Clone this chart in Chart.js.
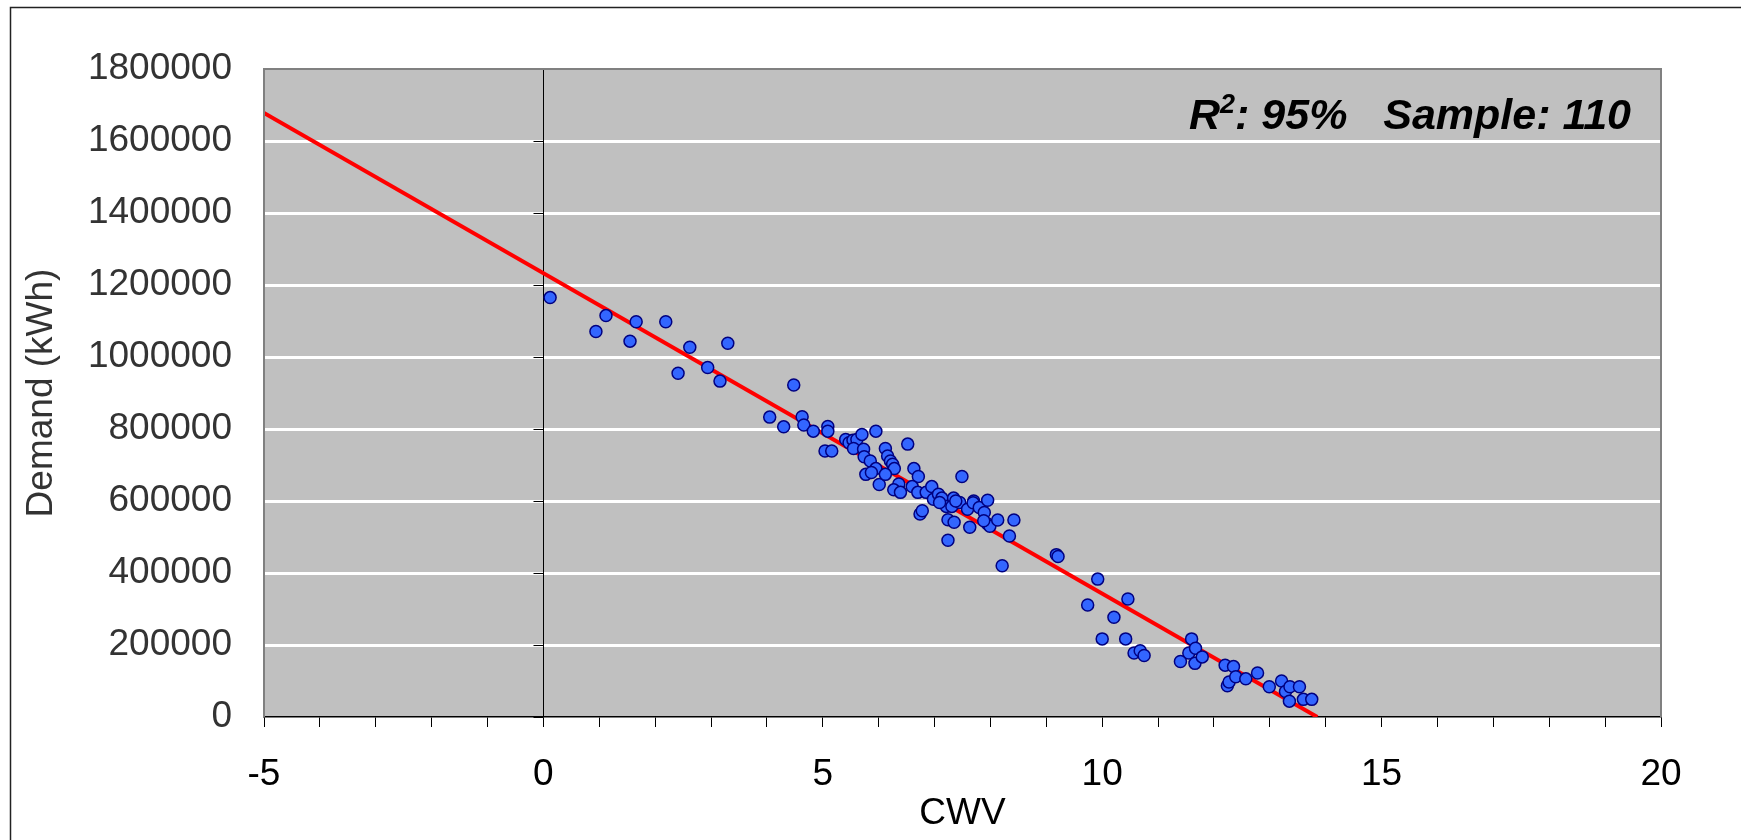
<!DOCTYPE html>
<html>
<head>
<meta charset="utf-8">
<script src="https://cdn.jsdelivr.net/npm/chart.js@4/dist/chart.umd.min.js"></script>
<style>
  html, body { margin: 0; padding: 0; background: #fff; }
  #wrap { width: 1741px; height: 840px; }
</style>
</head>
<body>
<div id="wrap"><canvas id="demand" width="1741" height="840"></canvas></div>
<script>
// observed points (CWV vs demand)
const cwv = [
  0.12, 0.94, 1.12, 1.55, 1.66, 2.19, 2.41, 2.62, 2.94, 3.16,
  3.30, 4.05, 4.30, 4.48, 4.63, 4.66, 4.83, 5.09, 5.09, 5.04,
  5.16, 5.95, 5.41, 5.47, 5.54, 5.61, 5.70, 5.55, 5.73, 5.74,
  5.85, 5.95, 5.77, 5.87, 6.01, 6.12, 6.16, 6.21, 6.25, 6.28,
  6.12, 6.52, 6.63, 6.71, 6.36, 6.27, 6.39, 6.60, 6.70, 6.85,
  6.95, 6.98, 7.07, 7.13, 7.21, 7.09, 7.34, 7.31, 7.45, 7.38,
  7.59, 7.70, 7.69, 7.80, 7.95, 7.89, 7.95, 7.99, 7.88, 8.13,
  8.42, 8.34, 6.74, 6.78, 7.24, 7.35, 7.63, 7.24, 7.49, 8.21,
  9.18, 9.21, 9.92, 9.74, 10.46, 10.21, 10.00, 10.42, 10.57, 10.68,
  10.75, 11.40, 11.60, 11.55, 11.67, 11.66, 11.79, 12.20, 12.35, 12.24,
  12.27, 12.39, 12.57, 12.78, 12.99, 13.21, 13.28, 13.36, 13.53, 13.35,
  13.60, 13.75
];
const demand = [
  1165000, 1071000, 1115000, 1044000, 1098000, 1098000, 955000, 1027000, 971000, 933000,
  1038000, 833000, 806000, 922000, 834000, 811000, 794000, 807000, 794000, 739000,
  739000, 794000, 771000, 762000, 769000, 771000, 785000, 746000, 744000, 723000,
  711000, 690000, 674000, 679000, 646000, 746000, 725000, 711000, 702000, 690000,
  674000, 758000, 690000, 668000, 647000, 631000, 624000, 640000, 624000, 624000,
  640000, 605000, 619000, 608000, 585000, 596000, 608000, 585000, 596000, 600000,
  577000, 600000, 595000, 582000, 602000, 568000, 536000, 530000, 545000, 547000,
  547000, 503000, 564000, 573000, 548000, 541000, 527000, 491000, 668000, 420000,
  451000, 446000, 383000, 311000, 328000, 277000, 217000, 217000, 178000, 184000,
  171000, 154000, 217000, 178000, 191000, 149000, 167000, 144000, 140000, 87000,
  97000, 112000, 106000, 122000, 84000, 100000, 71000, 84000, 84000, 44000,
  49000, 49000
];

// fitted regression line end points
const fitCwv = [-5, 13.85];
const fitDemand = [1678000, 0];

const annotation = { r2: '95%', sample: 110 };

const FONT = "'Liberation Sans', Arial, sans-serif";

const frame = {
  id: 'frame',
  beforeDraw(chart) {
    const { ctx, chartArea: a } = chart;
    ctx.save();
    ctx.fillStyle = '#fff';
    ctx.fillRect(0, 0, chart.width, chart.height);
    // outer border (left and top only visible)
    ctx.strokeStyle = '#222';
    ctx.lineWidth = 1.5;
    ctx.beginPath();
    ctx.moveTo(10.5, chart.height);
    ctx.lineTo(10.5, 7.5);
    ctx.lineTo(chart.width, 7.5);
    ctx.stroke();
    ctx.fillStyle = '#C0C0C0';
    ctx.fillRect(a.left, a.top, a.right - a.left, a.bottom - a.top);
    ctx.restore();
  },
  beforeDatasetsDraw(chart) {
    const { ctx, chartArea: a, scales } = chart;
    const x0 = Math.round(scales.x.getPixelForValue(0)) + 0.5;
    ctx.save();
    ctx.strokeStyle = '#000';
    ctx.lineWidth = 1;
    ctx.beginPath();
    ctx.moveTo(x0, a.top);
    ctx.lineTo(x0, a.bottom);
    scales.y.ticks.forEach(t => {
      const yp = Math.round(scales.y.getPixelForValue(t.value)) + 0.5;
      ctx.moveTo(x0 - 10, yp);
      ctx.lineTo(x0, yp);
    });
    ctx.stroke();
    ctx.restore();
  },
  afterDraw(chart) {
    const { ctx, chartArea: a } = chart;
    ctx.save();
    ctx.strokeStyle = '#808080';
    ctx.lineWidth = 2;
    ctx.beginPath();
    ctx.moveTo(a.left, a.bottom);
    ctx.lineTo(a.left, a.top);
    ctx.lineTo(a.right, a.top);
    ctx.lineTo(a.right, a.bottom);
    ctx.stroke();

    // R² / sample label, right aligned
    const big = 'bold italic 43px ' + FONT;
    const small = 'bold italic 27px ' + FONT;
    const rest = ': ' + annotation.r2 + '   Sample: ' + annotation.sample;
    ctx.fillStyle = '#000';
    ctx.textBaseline = 'alphabetic';
    ctx.font = big;
    const wR = ctx.measureText('R').width;
    const wRest = ctx.measureText(rest).width;
    ctx.font = small;
    const w2 = ctx.measureText('2').width;
    const right = 1631, base = 129;
    let x = right - wR - w2 - wRest;
    ctx.font = big;
    ctx.fillText('R', x, base);
    x += wR;
    ctx.font = small;
    ctx.fillText('2', x, base - 16);
    x += w2;
    ctx.font = big;
    ctx.fillText(rest, x, base);
    ctx.restore();
  }
};

new Chart(document.getElementById('demand'), {
  type: 'scatter',
  data: {
    datasets: [
      {
        label: 'Demand',
        data: cwv.map((v, i) => ({ x: v, y: demand[i] })),
        pointRadius: 6,
        pointBackgroundColor: '#3366FF',
        pointBorderColor: '#000080',
        pointBorderWidth: 1.5
      },
      {
        label: 'Fit',
        type: 'line',
        data: fitCwv.map((v, i) => ({ x: v, y: fitDemand[i] })),
        borderColor: '#FF0000',
        borderWidth: 4,
        pointRadius: 0,
        fill: false
      }
    ]
  },
  options: {
    responsive: false,
    animation: false,
    devicePixelRatio: 1,
    layout: { padding: { left: 0, top: 69, right: 80, bottom: 0 } },
    plugins: { legend: { display: false }, tooltip: { enabled: false } },
    scales: {
      x: {
        type: 'linear',
        min: -5, max: 20,
        afterFit: s => { s.height = 123; },
        grid: { drawOnChartArea: false, drawTicks: true, tickLength: 10, tickColor: '#000', lineWidth: 1 },
        border: { display: true, color: '#000', width: 1.5 },
        ticks: {
          stepSize: 1, autoSkip: false, maxRotation: 0, padding: 26,
          color: '#000', font: { family: FONT, size: 37 },
          callback: v => (v % 5 === 0 ? String(v) : '')
        },
        title: { display: true, text: 'CWV', color: '#000', font: { family: FONT, size: 37 }, padding: { top: 0, bottom: 4 } }
      },
      y: {
        min: 0, max: 1800000,
        afterFit: s => { s.width = 264; },
        grid: {
          drawTicks: false, lineWidth: 3,
          color: c => (c.tick && (c.tick.value === 0 || c.tick.value === 1800000) ? 'rgba(0,0,0,0)' : '#FFFFFF')
        },
        border: { display: false },
        ticks: {
          stepSize: 200000, padding: 32,
          color: '#333', font: { family: FONT, size: 37 },
          callback: v => String(v)
        },
        title: { display: true, text: 'Demand (kWh)', color: '#333', font: { family: FONT, size: 37 }, padding: { top: 20, bottom: 0 } }
      }
    }
  },
  plugins: [frame]
});
</script>
</body>
</html>
